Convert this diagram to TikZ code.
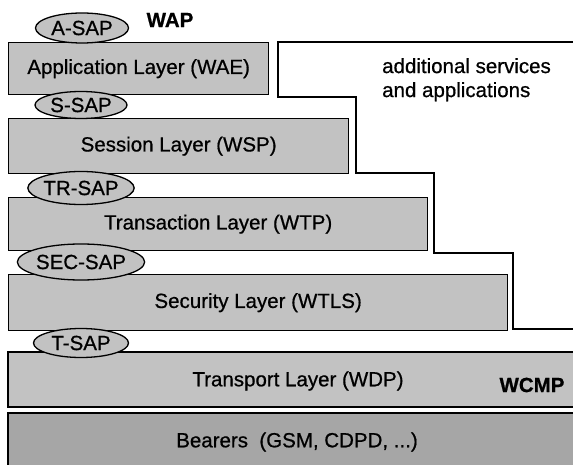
\documentclass[tikz,border=0pt]{standalone}
\usepackage{fontspec}
\setmainfont{Liberation Sans}[FakeBold=0.7]
\usepackage{tikz}
\usetikzlibrary{shapes.geometric}
\definecolor{lyG}{HTML}{C2C2C2}
\definecolor{brG}{HTML}{A6A6A6}

\begin{document}
\begin{tikzpicture}[x=1pt,y=-1pt,
    every node/.style={font=\fontsize{20.5}{24}\selectfont},
    layer/.style={draw,line width=1.3pt,fill=lyG,inner sep=0pt,anchor=north west},
    sap/.style={ellipse,draw,line width=1.3pt,fill=lyG,inner sep=0pt}]
  \useasboundingbox (0,0) rectangle (573,465);
  \clip (0,0) rectangle (573,465);
  % additional services area (stairs)
  \draw[line width=1.3pt,fill=white] (600,42) -- (278,42) -- (278,97) -- (356,97) -- (356,173)
    -- (434,173) -- (434,253) -- (513,253) -- (513,329) -- (600,329);
  \node[anchor=north west,inner sep=0pt,align=left] (add) at (382,58) {additional services\\and applications};
  % WAP layers
  \foreach \nm/\y/\w/\h/\txt in {wae/42/260/52/Application Layer (WAE),wsp/118/340/55/Session Layer (WSP),
      wtp/197/419/53/Transaction Layer (WTP),wtls/274/499/56/Security Layer (WTLS)}{
    \node[layer,minimum width=\w pt,minimum height=\h pt] (\nm) at (8,\y) {\txt};
  }
  \draw[line width=1.3pt,fill=lyG] (8,352) rectangle (600,407);
  \node (wdp) at (298,381) {Transport Layer (WDP)};
  \node[font=\fontsize{20.5}{24}\selectfont\bfseries] (wcmp) at (532,385) {WCMP};
  \draw[line width=1.3pt,fill=brG] (8,413) rectangle (600,480);
  \node (bear) at (297,442) {Bearers\ \ (GSM, CDPD, ...)};
  % service access points
  \foreach \nm/\x/\y/\w/\h/\txt in {asap/82/28/93/30/A-SAP,ssap/81/105/92/27/S-SAP,trsap/81/188/95/33/TR-SAP,
      secsap/81/262/95/36/SEC-SAP,tsap/81/343/95/29/T-SAP}{
    \node[sap,minimum width=\w pt,minimum height=\h pt] (\nm) at (\x,\y) {\txt};
  }
  \node[font=\fontsize{20.5}{24}\selectfont\bfseries] (wap) at (170,20) {WAP};
\end{tikzpicture}
\end{document}
